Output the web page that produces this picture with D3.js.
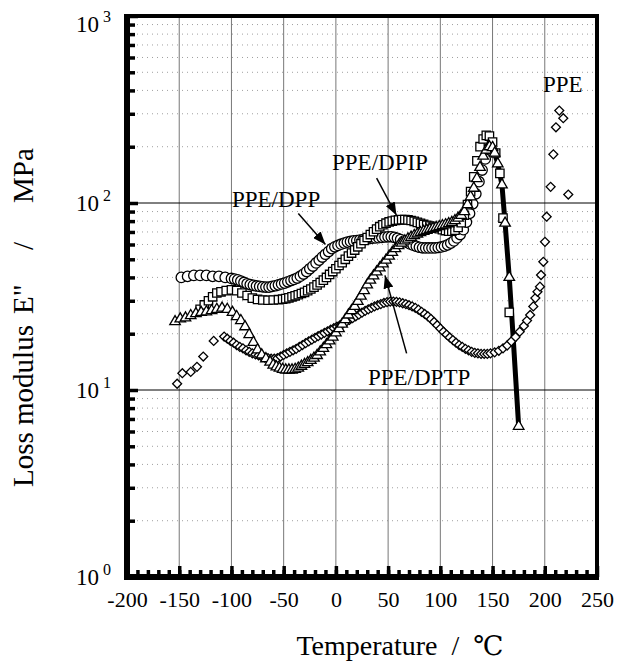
<!DOCTYPE html>
<html>
<head>
<meta charset="utf-8">
<script src="https://cdn.jsdelivr.net/npm/d3@7"></script>
<style>
  body { margin: 0; background: #fff; }
  text { font-family: "Liberation Serif", "Times New Roman", serif; fill: #000; }
</style>
</head>
<body>
<div id="chart"></div>
<script>
// ---- data: [temperature degC, E'' MPa] ----
const xTickValues = [-200, -150, -100, -50, 0, 50, 100, 150, 200, 250];
const yDecades = [1, 10, 100, 1000];
const yExponents = ["0", "1", "2", "3"];

// PPE/DPP (circles)
const dpp = [[-148,40],[-142,40.5],[-136,41],[-130,41],[-124,41],[-118,40.5],[-112,40.5],[-106,40],
  [-100,39.5],[-97,39.2],[-94,38.8],[-91,38.2],[-88,37.6],[-85,37],[-82,36.6],[-79,36.3],[-76,36],[-73,35.8],
  [-70,35.6],[-67,35.5],[-64,35.5],[-61,35.8],[-58,36.1],[-55,36.5],[-52,36.9],[-49,37.3],[-46,37.9],[-43,38.5],
  [-40,39],[-37,39.7],[-34,40.6],[-31,41.7],[-28,43],[-25,44.5],[-22,46],[-19,47.8],[-16,49.5],[-13,51.4],
  [-10,53.2],[-7,55],[-4,57],[-1,58.3],[2,59.3],[5,60.2],[8,61],[11,61.8],[14,62.3],[17,62.7],
  [20,63],[23,63.4],[26,63.8],[29,64.2],[32,64.5],[35,64.9],[38,65],[41,65.2],[44,65.5],[47,65.8],
  [50,66],[53,66],[56,65.5],[59,64.8],[62,63.8],[65,62.6],[68,61.5],[71,60.4],[74,59.5],[77,58.7],
  [80,58],[83,57.6],[86,57.5],[89,57.5],[92,57.5],[95,57.5],[98,57.8],[101,58.2],[104,58.8],[107,59.7],
  [110,61],[113,62.7],[116,65],[119,67.8],[122,72],[125,79],[128,88],[131,99],[134,112],[137,130],
  [140,150],[143,172],[146,195]];

// PPE/DPIP (squares)
const dpip = [[-130,27],[-126,28.5],[-122,30],[-118,31.5],[-114,33],[-110,33.5],[-105,34],[-100,34.3],[-95,34],
  [-90,33],[-85,32],[-80,31],[-75,30.5],[-70,30.3],[-65,30.2],[-60,30.3],[-55,30.4],[-51,30.6],
  [-48,30.8],[-45,31.1],[-42,31.5],[-39,31.9],[-36,32.3],[-33,32.8],[-30,33.3],[-27,34],[-24,34.7],[-21,35.5],
  [-18,36.5],[-15,37.5],[-12,38.7],[-9,40],[-6,41.5],[-3,43],[0,44.5],[3,46.3],[6,48],[9,50],
  [12,52],[15,54],[18,56],[21,58.3],[24,60.6],[27,63],[30,65.4],[33,67.8],[36,70.2],[39,72.5],
  [42,74.7],[45,76.5],[48,78],[51,79.2],[54,80],[57,80.8],[60,81.2],[63,81.5],[66,81.5],[69,81.2],
  [72,80.6],[75,79.8],[78,78.8],[81,77.8],[84,76.8],[87,76],[90,75.2],[93,74.4],[96,73.6],[99,72.8],
  [102,72],[105,71.2],[108,70.7],[111,70.6],[114,71.5],[117,74],[120,78.5],[123,86],[126,98],[129,115],
  [132,138],[135,168],[138,200],[141,220],[144,230],[147,228],[150,212],[153,185],[157,144],[160,83],[166,26]];

// PPE/DPTP (triangles)
const dptp = [[-154,23.2],[-149,24],[-144,24.3],[-139,25],[-134,25.6],[-129,26],[-124,26.2],[-119,26.6],[-114,27],
  [-109,27.4],[-104,27],[-99,26],[-95,24.7],[-91,23.5],[-87,21.8],[-83,19.8],[-79,18],[-75,16.4],[-71,15.4],[-67,14.7],
  [-63,14.1],[-60,13.6],[-57,13.3],[-54,13.1],[-51,12.9],[-48,12.8],[-45,12.8],[-42,12.8],[-39,12.9],[-36,13.1],
  [-33,13.4],[-30,13.7],[-27,14],[-24,14.4],[-21,14.8],[-18,15.3],[-15,16],[-12,16.7],[-9,17.5],[-6,18.3],
  [-3,19.2],[0,20.2],[3,21.3],[6,22.5],[9,23.8],[12,25.2],[15,26.6],[18,28],[21,29.8],[24,31.8],
  [27,34],[30,36.5],[33,38.7],[36,40.8],[39,42.8],[42,45],[45,47.3],[48,49.5],[51,52],[54,54.5],
  [57,57],[60,59.2],[63,61],[66,62.7],[69,64.2],[72,65.6],[75,67],[78,68.3],[81,69.5],[84,70.6],
  [87,71.5],[90,72.4],[93,73.2],[96,74],[99,74.8],[102,75.6],[105,76.5],[108,77.5],[111,78.7],[114,80.5],
  [117,83],[120,86],[123,90],[126,98],[129,108],[132,120],[135,135],[138,155],[141,178],[144,192],
  [147,200],[150,198],[152,185],[155,162],[159,125],[162,78],[166,40],[175,6.4]];
// the dense descending branch prints as a solid black line
const dptpLine = [[147,200],[150,198],[152,185],[155,162],[159,125],[162,78],[166,40],[169.5,20],[175,6.4]];

// PPE (diamonds)
const ppe = [[-152,10.8],[-147,12.3],[-139,12.5],[-133,13.3],[-127,15.1],[-117,18.3],[-107,19.3],
  [-104,18.8],[-101,18.3],[-98,17.9],[-95,17.4],[-92,17],[-89,16.7],[-86,16.3],[-83,16],[-80,15.7],[-77,15.5],
  [-74,15.3],[-71,15.1],[-68,14.9],[-65,14.8],[-62,14.7],[-59,14.7],[-56,14.8],[-53,15.1],[-50,15.4],[-47,15.7],
  [-44,16],[-41,16.3],[-38,16.6],[-35,17],[-32,17.4],[-29,17.8],[-26,18.2],[-23,18.6],[-20,19],[-17,19.4],
  [-14,19.8],[-11,20.2],[-8,20.6],[-5,21],[-2,21.4],[1,21.8],[4,22.2],[7,22.7],[10,23.2],[13,23.7],
  [16,24.2],[19,24.8],[22,25.3],[25,25.9],[28,26.5],[31,27],[34,27.5],[37,28],[40,28.4],[43,28.8],
  [46,29.2],[49,29.5],[52,29.7],[55,29.7],[58,29.6],[61,29.4],[64,29.1],[67,28.8],[70,28.4],[73,28],
  [76,27.5],[79,26.9],[82,26.2],[85,25.5],[88,24.8],[91,24],[94,23.1],[97,22.2],[100,21.3],[103,20.5],
  [106,19.8],[109,19.1],[112,18.5],[115,17.9],[118,17.4],[121,17],[124,16.6],[127,16.3],[130,16],[133,15.8],
  [136,15.7],[139,15.6],[142,15.6],[145,15.6],[148,15.7],
  [152,15.9],[156,16.2],[160,16.7],[164,17.3],[168,18.2],[172,19.2],[176,20.5],[180,22],[183,23.5],[186,25.2],
  [189,28],[191,31],[193,33.5],[195.4,35.7],[196.4,41.2],[198.6,48.5],[200.2,62],[201.8,84.5],[205.6,122],
  [208.2,182],[210.7,254],[213.9,312],[217.7,284],[222.5,111]];

// ---- layout ----
const width = 618, height = 662;
const margin = { top: 16, right: 21, bottom: 85, left: 127 };

const svg = d3.select("#chart").append("svg")
  .attr("width", width)
  .attr("height", height);

const x = d3.scaleLinear().domain([-200, 250]).range([margin.left, width - margin.right]);
const y = d3.scaleLog().domain([1, 1000]).range([height - margin.bottom, margin.top]);

// minor horizontal gridlines (dotted)
const minorY = [];
[1, 10, 100].forEach(dec => { for (let k = 2; k <= 9; k++) minorY.push(k * dec); });
svg.append("g").selectAll("line")
  .data(minorY)
  .enter().append("line")
  .attr("x1", x(-200)).attr("x2", x(250))
  .attr("y1", d => y(d)).attr("y2", d => y(d))
  .attr("stroke", "#888").attr("stroke-width", 0.8)
  .attr("stroke-dasharray", "1,4");

// major gridlines
svg.append("g").selectAll("line")
  .data(xTickValues.slice(1, -1))
  .enter().append("line")
  .attr("x1", d => x(d)).attr("x2", d => x(d))
  .attr("y1", y(1000)).attr("y2", y(1))
  .attr("stroke", "#777").attr("stroke-width", 1);

svg.append("g").selectAll("line")
  .data([10, 100])
  .enter().append("line")
  .attr("x1", x(-200)).attr("x2", x(250))
  .attr("y1", d => y(d)).attr("y2", d => y(d))
  .attr("stroke", "#000").attr("stroke-width", 1);

// inward ticks
const leftMinor = svg.append("g")
  .attr("transform", `translate(${x(-200)},0)`)
  .call(d3.axisRight(y).tickValues(minorY).tickSize(8).tickFormat(""));
const leftMajor = svg.append("g")
  .attr("transform", `translate(${x(-200)},0)`)
  .call(d3.axisRight(y).tickValues(yDecades).tickSize(11).tickFormat(""));
const bottomMinor = svg.append("g")
  .attr("transform", `translate(0,${y(1)})`)
  .call(d3.axisTop(x).tickValues(d3.range(-190, 250, 10)).tickSize(7).tickFormat(""));
const bottomMajor = svg.append("g")
  .attr("transform", `translate(0,${y(1)})`)
  .call(d3.axisTop(x).tickValues(xTickValues).tickSize(11).tickFormat(""));
[leftMinor, leftMajor, bottomMinor, bottomMajor].forEach(g => {
  g.select(".domain").remove();
  g.selectAll(".tick line").attr("stroke", "#000").attr("stroke-width", 3.5);
});

// x tick labels
const xLab = svg.append("g")
  .attr("transform", `translate(0,${y(1)})`)
  .call(d3.axisBottom(x).tickValues(xTickValues).tickSize(0).tickPadding(14).tickFormat(d => String(d)));
xLab.select(".domain").remove();
xLab.selectAll("text")
  .style("font-family", "'Liberation Serif', serif")
  .style("font-size", "22px")
  .attr("fill", "#000");

// y tick labels: 10^n
const yLabelY = (d, i) => y(d) + (i === 3 ? 16 : 8);
svg.append("g").selectAll("text")
  .data(yDecades)
  .enter().append("text")
  .attr("x", 99)
  .attr("y", yLabelY)
  .attr("text-anchor", "end")
  .style("font-size", "23px")
  .text("10");
svg.append("g").selectAll("text")
  .data(yDecades)
  .enter().append("text")
  .attr("x", 103)
  .attr("y", (d, i) => yLabelY(d, i) - 10)
  .style("font-size", "16px")
  .text((d, i) => yExponents[i]);

// thick descending line
svg.append("path")
  .datum(dptpLine)
  .attr("fill", "none")
  .attr("stroke", "#000")
  .attr("stroke-width", 5)
  .attr("d", d3.line().x(d => x(d[0])).y(d => y(d[1])));

// markers
function drawSeries(data, type, size, rotate) {
  svg.append("g").selectAll("path")
    .data(data)
    .enter().append("path")
    .attr("d", d3.symbol().type(type).size(size))
    .attr("transform", d => `translate(${x(d[0])},${y(d[1])})` + (rotate ? " rotate(45)" : ""))
    .attr("fill", "#fff")
    .attr("stroke", "#000")
    .attr("stroke-width", 1.3);
}
drawSeries(ppe, d3.symbolSquare, 40, true);
drawSeries(dpp, d3.symbolCircle, 85, false);
drawSeries(dpip, d3.symbolSquare, 70, false);
drawSeries(dptp, d3.symbolTriangle, 48, false);

// frame: heavy left/bottom, lighter top/right
const frame = svg.append("g").attr("stroke", "#000");
frame.append("line").attr("x1", x(-200)).attr("x2", x(-200)).attr("y1", y(1000) - 2).attr("y2", y(1) + 3).attr("stroke-width", 6);
frame.append("line").attr("x1", x(-200) - 3).attr("x2", x(250) + 2).attr("y1", y(1)).attr("y2", y(1)).attr("stroke-width", 6);
frame.append("line").attr("x1", x(-200)).attr("x2", x(250) + 2).attr("y1", y(1000)).attr("y2", y(1000)).attr("stroke-width", 4);
frame.append("line").attr("x1", x(250)).attr("x2", x(250)).attr("y1", y(1000)).attr("y2", y(1)).attr("stroke-width", 4);

// annotations
svg.append("defs").append("marker")
  .attr("id", "arrow")
  .attr("markerUnits", "userSpaceOnUse")
  .attr("viewBox", "0 0 13 10")
  .attr("refX", 13).attr("refY", 5)
  .attr("markerWidth", 13).attr("markerHeight", 10)
  .attr("orient", "auto")
  .append("path").attr("d", "M0,0 L13,5 L0,10 Z").attr("fill", "#000");

const labels = [
  { text: "PPE/DPP", t: -99.5, v: 95 },
  { text: "PPE/DPIP", t: -3.7, v: 150 },
  { text: "PPE/DPTP", t: 30.7, v: 10.6 },
  { text: "PPE", t: 198.3, v: 390 }
];
svg.append("g").selectAll("text")
  .data(labels)
  .enter().append("text")
  .attr("x", d => x(d.t))
  .attr("y", d => y(d.v))
  .style("font-size", "23px")
  .text(d => d.text);

const arrows = [
  { t1: -36, v1: 88, t2: -10, v2: 60 },
  { t1: 39, v1: 136, t2: 58, v2: 86 },
  { t1: 67.7, v1: 15.7, t2: 47, v2: 41 }
];
svg.append("g").selectAll("line")
  .data(arrows)
  .enter().append("line")
  .attr("x1", d => x(d.t1)).attr("y1", d => y(d.v1))
  .attr("x2", d => x(d.t2)).attr("y2", d => y(d.v2))
  .attr("stroke", "#000").attr("stroke-width", 1.5)
  .attr("marker-end", "url(#arrow)");

// axis titles
const xt = svg.append("text")
  .attr("x", 400)
  .attr("y", 655)
  .attr("text-anchor", "middle")
  .style("font-size", "28px")
  .style("white-space", "pre");
xt.append("tspan").text("Temperature  /  ");
xt.append("tspan").style("font-family", "'DejaVu Serif', 'DejaVu Sans', serif").style("font-size", "27px").text("\u2103");

const yt = svg.append("text")
  .attr("transform", "rotate(-90)")
  .attr("y", 33)
  .style("font-size", "29px");
yt.append("tspan").attr("x", -487).text("Loss modulus");
yt.append("tspan").attr("x", -314).text("E\"");
yt.append("tspan").attr("x", -250).text("/");
yt.append("tspan").attr("x", -203).text("MPa");
</script>
</body>
</html>
